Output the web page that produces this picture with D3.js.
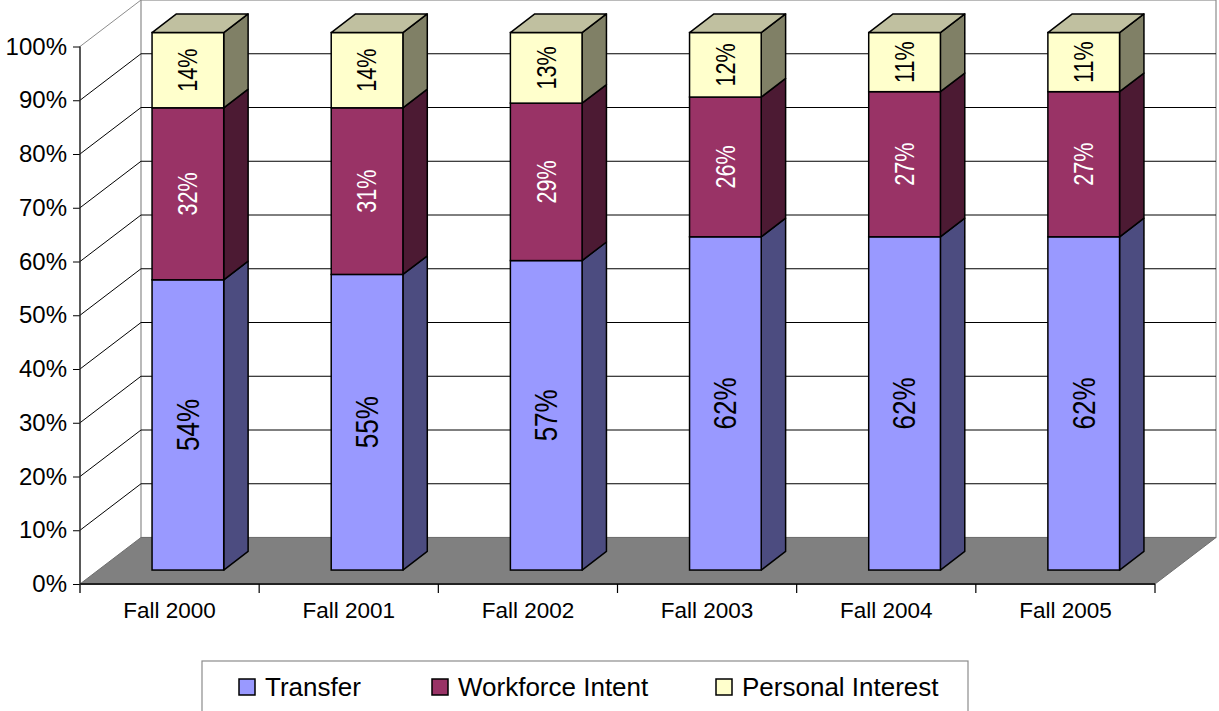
<!DOCTYPE html>
<html lang="en">
<head>
<meta charset="UTF-8">
<title>Enrollment Intent</title>
<style>
    body { margin: 0; background: #fff; }
    svg { display: block; font-family: 'Liberation Sans', Arial, sans-serif; }
</style>
</head>
<body>
<svg id="chart" width="1219" height="711"></svg>
<script src="https://cdn.jsdelivr.net/npm/d3@7/dist/d3.min.js"></script>
<script>
const categories = ["Fall 2000", "Fall 2001", "Fall 2002", "Fall 2003", "Fall 2004", "Fall 2005"];
const transfer = [54, 55, 57, 62, 62, 62];
const workforce = [32, 31, 29, 26, 27, 27];
const personal = [14, 14, 13, 12, 11, 11];
const yTicks = [0, 10, 20, 30, 40, 50, 60, 70, 80, 90, 100];

const seriesNames = ["Transfer", "Workforce Intent", "Personal Interest"];
const seriesValues = [transfer, workforce, personal];
// front, side, top colours
const seriesColors = [
    { front: "#9999ff", side: "#4c4c80", top: "#7a7acc", label: "#000", size: 31, sx: 0.84 },
    { front: "#993366", side: "#4c1a33", top: "#7a2952", label: "#fff", size: 27, sx: 0.8 },
    { front: "#ffffcc", side: "#808066", top: "#c0c0a0", label: "#000", size: 27, sx: 0.8 }
];

const svg = d3.select("#chart");

// front plane of the 3d box
const plotLeft = 80, plotRight = 1155, plotBottom = 584, plotTop = 46.5;
const depthX = 61, depthY = -46.5;
const x = d3.scaleBand().domain(categories).range([plotLeft, plotRight]);
const y = d3.scaleLinear().domain([0, 100]).range([plotBottom, plotTop]);
// project value at depth z (0 = front, 1 = back wall)
const px = (xv, z) => xv + z * depthX;
const py = (v, z) => y(v) + z * depthY;

// back wall
svg.append("rect")
    .attr("x", px(plotLeft, 1)).attr("y", py(100, 1))
    .attr("width", plotRight - plotLeft).attr("height", py(0, 1) - py(100, 1))
    .attr("fill", "#fff").attr("stroke", "#8c8c8c").attr("stroke-width", 1.2);

// gridlines on back wall and left wall
const grid = svg.append("g");
yTicks.forEach(t => {
    if (t > 0 && t < 100) {
        grid.append("line")
            .attr("x1", px(plotLeft, 1)).attr("x2", px(plotRight, 1))
            .attr("y1", py(t, 1)).attr("y2", py(t, 1))
            .attr("stroke", "#000").attr("stroke-width", 1);
    }
    if (t > 0) {
        grid.append("line")
            .attr("x1", px(plotLeft, 0)).attr("y1", py(t, 0))
            .attr("x2", px(plotLeft, 1)).attr("y2", py(t, 1))
            .attr("stroke", t === 100 ? "#8c8c8c" : "#000").attr("stroke-width", 1);
    }
});

// floor
svg.append("polygon")
    .attr("points", [[plotLeft, plotBottom], [plotRight, plotBottom], [px(plotRight, 1), py(0, 1)], [px(plotLeft, 1), py(0, 1)]].join(" "))
    .attr("fill", "#808080").attr("stroke", "#6e6e6e").attr("stroke-width", 1);

// bars
const z0 = 0.3, z1 = 0.7;
const barW = x.bandwidth() / 2.5;
const bars = svg.append("g");
categories.forEach((c, i) => {
    const total = d3.sum(seriesValues, s => s[i]);
    const xl = x(c) + (x.bandwidth() - barW) / 2;
    const xr = xl + barW;
    let base = 0;
    seriesValues.forEach((s, k) => {
        const v0 = base, v1 = base + s[i] / total * 100;
        base = v1;
        const col = seriesColors[k];
        const g = bars.append("g");
        // side face
        g.append("polygon")
            .attr("points", [[px(xr, z0), py(v0, z0)], [px(xr, z1), py(v0, z1)], [px(xr, z1), py(v1, z1)], [px(xr, z0), py(v1, z0)]].join(" "))
            .attr("fill", col.side).attr("stroke", "#000").attr("stroke-width", 1.5).attr("stroke-linejoin", "round");
        // front face
        g.append("rect")
            .attr("x", px(xl, z0)).attr("y", py(v1, z0))
            .attr("width", barW).attr("height", py(v0, z0) - py(v1, z0))
            .attr("fill", col.front).attr("stroke", "#000").attr("stroke-width", 1.5);
        // top face only on the last segment
        if (k === seriesValues.length - 1) {
            g.append("polygon")
                .attr("points", [[px(xl, z0), py(v1, z0)], [px(xr, z0), py(v1, z0)], [px(xr, z1), py(v1, z1)], [px(xl, z1), py(v1, z1)]].join(" "))
                .attr("fill", col.top).attr("stroke", "#000").attr("stroke-width", 1.5).attr("stroke-linejoin", "round");
        }
        const cx = px((xl + xr) / 2, z0), cy = py((v0 + v1) / 2, z0);
        g.append("text")
            .attr("transform", `translate(${cx},${cy}) rotate(-90) scale(${col.sx},1)`)
            .attr("text-anchor", "middle").attr("dominant-baseline", "central")
            .attr("font-size", col.size).attr("fill", col.label)
            .text(s[i] + "%");
    });
});

// value axis on the front plane
const yAxis = svg.append("g")
    .attr("transform", `translate(${plotLeft},0)`)
    .call(d3.axisLeft(y).tickValues(yTicks).tickFormat(d => d + "%").tickSize(7).tickPadding(6));
yAxis.select(".domain").remove();
yAxis.selectAll(".tick line").attr("stroke", "#000");
yAxis.selectAll(".tick text").attr("font-size", 24).attr("fill", "#000").attr("font-family", "'Liberation Sans', Arial, sans-serif");
svg.append("line")
    .attr("x1", plotLeft).attr("x2", plotLeft).attr("y1", y(100)).attr("y2", plotBottom + 9)
    .attr("stroke", "#222").attr("stroke-width", 1.5);

// category axis
svg.append("line")
    .attr("x1", plotLeft).attr("x2", plotRight).attr("y1", plotBottom).attr("y2", plotBottom)
    .attr("stroke", "#222").attr("stroke-width", 2);
const xAxis = svg.append("g")
    .attr("transform", `translate(0,${plotBottom})`)
    .call(d3.axisBottom(x).tickSize(0).tickPadding(18));
xAxis.select(".domain").remove();
xAxis.selectAll(".tick text").attr("font-size", 22.5).attr("fill", "#000").attr("font-family", "'Liberation Sans', Arial, sans-serif");
categories.forEach(c => {
    svg.append("line")
        .attr("x1", x(c) + x.bandwidth()).attr("x2", x(c) + x.bandwidth())
        .attr("y1", plotBottom).attr("y2", plotBottom + 9)
        .attr("stroke", "#000").attr("stroke-width", 1.2);
});

// legend
const legend = svg.append("g");
legend.append("rect")
    .attr("x", 202).attr("y", 661).attr("width", 766).attr("height", 70)
    .attr("fill", "#fff").attr("stroke", "#8c8c8c").attr("stroke-width", 1.2);
const legendX = [239, 432, 716];
seriesNames.forEach((n, k) => {
    legend.append("rect")
        .attr("x", legendX[k]).attr("y", 679).attr("width", 16).attr("height", 16)
        .attr("fill", seriesColors[k].front).attr("stroke", "#000").attr("stroke-width", 1.5);
    legend.append("text")
        .attr("x", legendX[k] + 26).attr("y", 695.5)
        .attr("font-size", 26).attr("fill", "#000")
        .text(n);
});
</script>
</body>
</html>
